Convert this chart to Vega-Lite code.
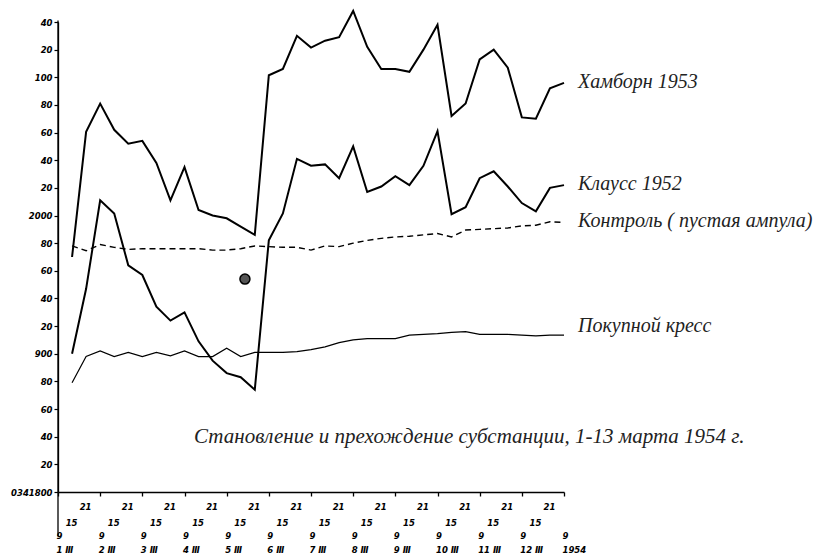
{
  "$schema": "https://vega.github.io/schema/vega-lite/v6.json",
  "width": 506,
  "height": 470,
  "autosize": {"type": "none"},
  "padding": {"left": 58, "top": 22, "right": 263, "bottom": 66},
  "background": "white",
  "config": {"view": {"stroke": null}},
  "datasets": {
    "series": [
      {"series": "Хамборн 1953", "s": 1, "v": 1970}, {"series": "Хамборн 1953", "s": 2, "v": 2060.5}, {"series": "Хамборн 1953", "s": 3, "v": 2081}, {"series": "Хамборн 1953", "s": 4, "v": 2062}, {"series": "Хамборн 1953", "s": 5, "v": 2052}, {"series": "Хамборн 1953", "s": 6, "v": 2054}, {"series": "Хамборн 1953", "s": 7, "v": 2038}, {"series": "Хамборн 1953", "s": 8, "v": 2011}, {"series": "Хамборн 1953", "s": 9, "v": 2035}, {"series": "Хамборн 1953", "s": 10, "v": 2004}, {"series": "Хамборн 1953", "s": 11, "v": 2000}, {"series": "Хамборн 1953", "s": 12, "v": 1998}, {"series": "Хамборн 1953", "s": 13, "v": 1992}, {"series": "Хамборн 1953", "s": 14, "v": 1986}, {"series": "Хамборн 1953", "s": 15, "v": 2101.5}, {"series": "Хамборн 1953", "s": 16, "v": 2106}, {"series": "Хамборн 1953", "s": 17, "v": 2130}, {"series": "Хамборн 1953", "s": 18, "v": 2121.5}, {"series": "Хамборн 1953", "s": 19, "v": 2126.5}, {"series": "Хамборн 1953", "s": 20, "v": 2129}, {"series": "Хамборн 1953", "s": 21, "v": 2148}, {"series": "Хамборн 1953", "s": 22, "v": 2122}, {"series": "Хамборн 1953", "s": 23, "v": 2106}, {"series": "Хамборн 1953", "s": 24, "v": 2106}, {"series": "Хамборн 1953", "s": 25, "v": 2104}, {"series": "Хамборн 1953", "s": 26, "v": 2120}, {"series": "Хамборн 1953", "s": 27, "v": 2138}, {"series": "Хамборн 1953", "s": 28, "v": 2072}, {"series": "Хамборн 1953", "s": 29, "v": 2081}, {"series": "Хамборн 1953", "s": 30, "v": 2113}, {"series": "Хамборн 1953", "s": 31, "v": 2120}, {"series": "Хамборн 1953", "s": 32, "v": 2107}, {"series": "Хамборн 1953", "s": 33, "v": 2071}, {"series": "Хамборн 1953", "s": 34, "v": 2070}, {"series": "Хамборн 1953", "s": 35, "v": 2092}, {"series": "Хамборн 1953", "s": 36, "v": 2096},
      {"series": "Клаусс 1952", "s": 1, "v": 1900}, {"series": "Клаусс 1952", "s": 2, "v": 1947}, {"series": "Клаусс 1952", "s": 3, "v": 2011}, {"series": "Клаусс 1952", "s": 4, "v": 2001.5}, {"series": "Клаусс 1952", "s": 5, "v": 1964}, {"series": "Клаусс 1952", "s": 6, "v": 1957}, {"series": "Клаусс 1952", "s": 7, "v": 1934}, {"series": "Клаусс 1952", "s": 8, "v": 1924}, {"series": "Клаусс 1952", "s": 9, "v": 1930}, {"series": "Клаусс 1952", "s": 10, "v": 1909}, {"series": "Клаусс 1952", "s": 11, "v": 1895}, {"series": "Клаусс 1952", "s": 12, "v": 1886}, {"series": "Клаусс 1952", "s": 13, "v": 1883}, {"series": "Клаусс 1952", "s": 14, "v": 1874}, {"series": "Клаусс 1952", "s": 15, "v": 1982}, {"series": "Клаусс 1952", "s": 16, "v": 2001.5}, {"series": "Клаусс 1952", "s": 17, "v": 2041}, {"series": "Клаусс 1952", "s": 18, "v": 2036}, {"series": "Клаусс 1952", "s": 19, "v": 2037}, {"series": "Клаусс 1952", "s": 20, "v": 2027}, {"series": "Клаусс 1952", "s": 21, "v": 2050}, {"series": "Клаусс 1952", "s": 22, "v": 2017}, {"series": "Клаусс 1952", "s": 23, "v": 2021}, {"series": "Клаусс 1952", "s": 24, "v": 2028.5}, {"series": "Клаусс 1952", "s": 25, "v": 2022}, {"series": "Клаусс 1952", "s": 26, "v": 2036}, {"series": "Клаусс 1952", "s": 27, "v": 2061}, {"series": "Клаусс 1952", "s": 28, "v": 2001}, {"series": "Клаусс 1952", "s": 29, "v": 2006}, {"series": "Клаусс 1952", "s": 30, "v": 2027}, {"series": "Клаусс 1952", "s": 31, "v": 2032}, {"series": "Клаусс 1952", "s": 32, "v": 2021}, {"series": "Клаусс 1952", "s": 33, "v": 2009}, {"series": "Клаусс 1952", "s": 34, "v": 2003}, {"series": "Клаусс 1952", "s": 35, "v": 2020}, {"series": "Клаусс 1952", "s": 36, "v": 2022},
      {"series": "Контроль", "s": 1, "v": 1978}, {"series": "Контроль", "s": 2, "v": 1974.5}, {"series": "Контроль", "s": 3, "v": 1979}, {"series": "Контроль", "s": 4, "v": 1977}, {"series": "Контроль", "s": 5, "v": 1975.5}, {"series": "Контроль", "s": 6, "v": 1976}, {"series": "Контроль", "s": 7, "v": 1976}, {"series": "Контроль", "s": 8, "v": 1976}, {"series": "Контроль", "s": 9, "v": 1976}, {"series": "Контроль", "s": 10, "v": 1976}, {"series": "Контроль", "s": 11, "v": 1975}, {"series": "Контроль", "s": 12, "v": 1975}, {"series": "Контроль", "s": 13, "v": 1976}, {"series": "Контроль", "s": 14, "v": 1978}, {"series": "Контроль", "s": 15, "v": 1977.5}, {"series": "Контроль", "s": 16, "v": 1977}, {"series": "Контроль", "s": 17, "v": 1977}, {"series": "Контроль", "s": 18, "v": 1975}, {"series": "Контроль", "s": 19, "v": 1978}, {"series": "Контроль", "s": 20, "v": 1977.5}, {"series": "Контроль", "s": 21, "v": 1980}, {"series": "Контроль", "s": 22, "v": 1982}, {"series": "Контроль", "s": 23, "v": 1983.5}, {"series": "Контроль", "s": 24, "v": 1984.5}, {"series": "Контроль", "s": 25, "v": 1985}, {"series": "Контроль", "s": 26, "v": 1986}, {"series": "Контроль", "s": 27, "v": 1987}, {"series": "Контроль", "s": 28, "v": 1984.5}, {"series": "Контроль", "s": 29, "v": 1989.5}, {"series": "Контроль", "s": 30, "v": 1990}, {"series": "Контроль", "s": 31, "v": 1990.5}, {"series": "Контроль", "s": 32, "v": 1991}, {"series": "Контроль", "s": 33, "v": 1992.5}, {"series": "Контроль", "s": 34, "v": 1993}, {"series": "Контроль", "s": 35, "v": 1995.5}, {"series": "Контроль", "s": 36, "v": 1995},
      {"series": "Покупной кресс", "s": 1, "v": 1879}, {"series": "Покупной кресс", "s": 2, "v": 1898}, {"series": "Покупной кресс", "s": 3, "v": 1902}, {"series": "Покупной кресс", "s": 4, "v": 1898}, {"series": "Покупной кресс", "s": 5, "v": 1901}, {"series": "Покупной кресс", "s": 6, "v": 1898}, {"series": "Покупной кресс", "s": 7, "v": 1901}, {"series": "Покупной кресс", "s": 8, "v": 1898.5}, {"series": "Покупной кресс", "s": 9, "v": 1902}, {"series": "Покупной кресс", "s": 10, "v": 1898}, {"series": "Покупной кресс", "s": 11, "v": 1898}, {"series": "Покупной кресс", "s": 12, "v": 1904}, {"series": "Покупной кресс", "s": 13, "v": 1898}, {"series": "Покупной кресс", "s": 14, "v": 1901}, {"series": "Покупной кресс", "s": 15, "v": 1901}, {"series": "Покупной кресс", "s": 16, "v": 1901}, {"series": "Покупной кресс", "s": 17, "v": 1901.5}, {"series": "Покупной кресс", "s": 18, "v": 1903}, {"series": "Покупной кресс", "s": 19, "v": 1905}, {"series": "Покупной кресс", "s": 20, "v": 1908}, {"series": "Покупной кресс", "s": 21, "v": 1910}, {"series": "Покупной кресс", "s": 22, "v": 1911}, {"series": "Покупной кресс", "s": 23, "v": 1911}, {"series": "Покупной кресс", "s": 24, "v": 1911}, {"series": "Покупной кресс", "s": 25, "v": 1913.5}, {"series": "Покупной кресс", "s": 26, "v": 1914}, {"series": "Покупной кресс", "s": 27, "v": 1914.5}, {"series": "Покупной кресс", "s": 28, "v": 1915.5}, {"series": "Покупной кресс", "s": 29, "v": 1916}, {"series": "Покупной кресс", "s": 30, "v": 1914}, {"series": "Покупной кресс", "s": 31, "v": 1914}, {"series": "Покупной кресс", "s": 32, "v": 1914}, {"series": "Покупной кресс", "s": 33, "v": 1913.5}, {"series": "Покупной кресс", "s": 34, "v": 1913}, {"series": "Покупной кресс", "s": 35, "v": 1913.5}, {"series": "Покупной кресс", "s": 36, "v": 1913.5}
    ],
    "labels": [
      {"s": 37, "v": 2096.5, "t": "Хамборн 1953"},
      {"s": 37, "v": 2023, "t": "Клаусс 1952"},
      {"s": 37, "v": 1996, "t": "Контроль ( пустая ампула)"},
      {"s": 37, "v": 1920, "t": "Покупной кресс"}
    ],
    "caption": [
      {"s": 29.26, "v": 1840, "t": "Становление и прехождение субстанции, 1-13 марта 1954 г."}
    ],
    "spot": [{"s": 13.3, "v": 1954}],
    "axisext": [{"s": 0, "v": 2141, "v2": 1768}]
  },
  "encoding": {
    "x": {
      "field": "s", "type": "quantitative",
      "scale": {"domain": [0, 36], "nice": false, "zero": false},
      "axis": {
        "title": null, "grid": false,
        "values": [0,1,2,3,4,5,6,7,8,9,10,11,12,13,14,15,16,17,18,19,20,21,22,23,24,25,26,27,28,29,30,31,32,33,34,35,36],
        "labelExpr": "datum.value % 3 == 2 ? '21' : datum.value % 3 == 1 ? '15' : ['9', datum.value == 36 ? '1954' : (datum.value / 3 + 1) + ' Ⅲ']",
        "labelOverlap": false, "labelFlush": false, "labelBound": false,
        "labelFont": "DejaVu Sans", "labelFontStyle": "italic", "labelFontWeight": "bold",
        "labelFontSize": 8.5, "labelColor": "black", "labelLineHeight": 14.5,
        "labelBaseline": "top",
        "labelPadding": {"condition": [{"test": "datum.value % 3 == 2", "value": 6}, {"test": "datum.value % 3 == 1", "value": 22}], "value": 35},
        "labelAlign": {"condition": {"test": "datum.value % 3 == 0", "value": "left"}, "value": "center"},
        "labelOffset": {"condition": {"test": "datum.value % 3 == 0", "value": -2}, "value": -1},
        "domainColor": "black", "domainWidth": 1.3,
        "tickColor": "black", "tickSize": 4, "tickWidth": 1.3,
        "tickOpacity": {"condition": {"test": "datum.value % 3 == 0", "value": 1}, "value": 0}
      }
    },
    "y": {
      "field": "v", "type": "quantitative",
      "scale": {"domain": [1800, 2140], "nice": false, "zero": false},
      "axis": {
        "title": null, "grid": false,
        "values": [1800,1820,1840,1860,1880,1900,1920,1940,1960,1980,2000,2020,2040,2060,2080,2100,2120,2140],
        "labelExpr": "datum.value == 2000 ? '2000' : datum.value == 1800 ? '0341800' : datum.value == 2100 ? '100' : datum.value == 1900 ? '900' : '' + (datum.value % 100)",
        "labelOverlap": false, "labelFlush": false, "labelBound": false,
        "labelFont": "DejaVu Sans", "labelFontStyle": "italic", "labelFontWeight": "bold",
        "labelFontSize": 8.5, "labelColor": "black", "labelPadding": 2,
        "domainColor": "black", "domainWidth": 1.3,
        "tickColor": "black", "tickSize": 4, "tickWidth": 1.2
      }
    }
  },
  "layer": [
    {
      "data": {"name": "series"},
      "transform": [{"filter": "datum.series == 'Хамборн 1953'"}],
      "mark": {"type": "line", "color": "black", "strokeWidth": 2, "strokeJoin": "miter"}
    },
    {
      "data": {"name": "series"},
      "transform": [{"filter": "datum.series == 'Клаусс 1952'"}],
      "mark": {"type": "line", "color": "black", "strokeWidth": 2, "strokeJoin": "miter"}
    },
    {
      "data": {"name": "series"},
      "transform": [{"filter": "datum.series == 'Контроль'"}],
      "mark": {"type": "line", "color": "black", "strokeWidth": 1.4, "strokeDash": [6, 4]}
    },
    {
      "data": {"name": "series"},
      "transform": [{"filter": "datum.series == 'Покупной кресс'"}],
      "mark": {"type": "line", "color": "black", "strokeWidth": 1.2}
    },
    {
      "data": {"name": "axisext"},
      "mark": {"type": "rule", "color": "black", "strokeWidth": 1.3},
      "encoding": {"y2": {"field": "v2"}}
    },
    {
      "data": {"name": "spot"},
      "mark": {"type": "point", "shape": "circle", "filled": false, "color": "black", "fill": "#555", "fillOpacity": 1, "strokeWidth": 1.5, "size": 100, "opacity": 1}
    },
    {
      "data": {"name": "labels"},
      "mark": {"type": "text", "align": "left", "baseline": "middle", "font": "Liberation Serif", "fontStyle": "italic", "fontSize": 20, "color": "#222"},
      "encoding": {"text": {"field": "t"}}
    },
    {
      "data": {"name": "caption"},
      "mark": {"type": "text", "align": "center", "baseline": "middle", "font": "Liberation Serif", "fontStyle": "italic", "fontSize": 21, "color": "#222"},
      "encoding": {"text": {"field": "t"}}
    }
  ]
}
